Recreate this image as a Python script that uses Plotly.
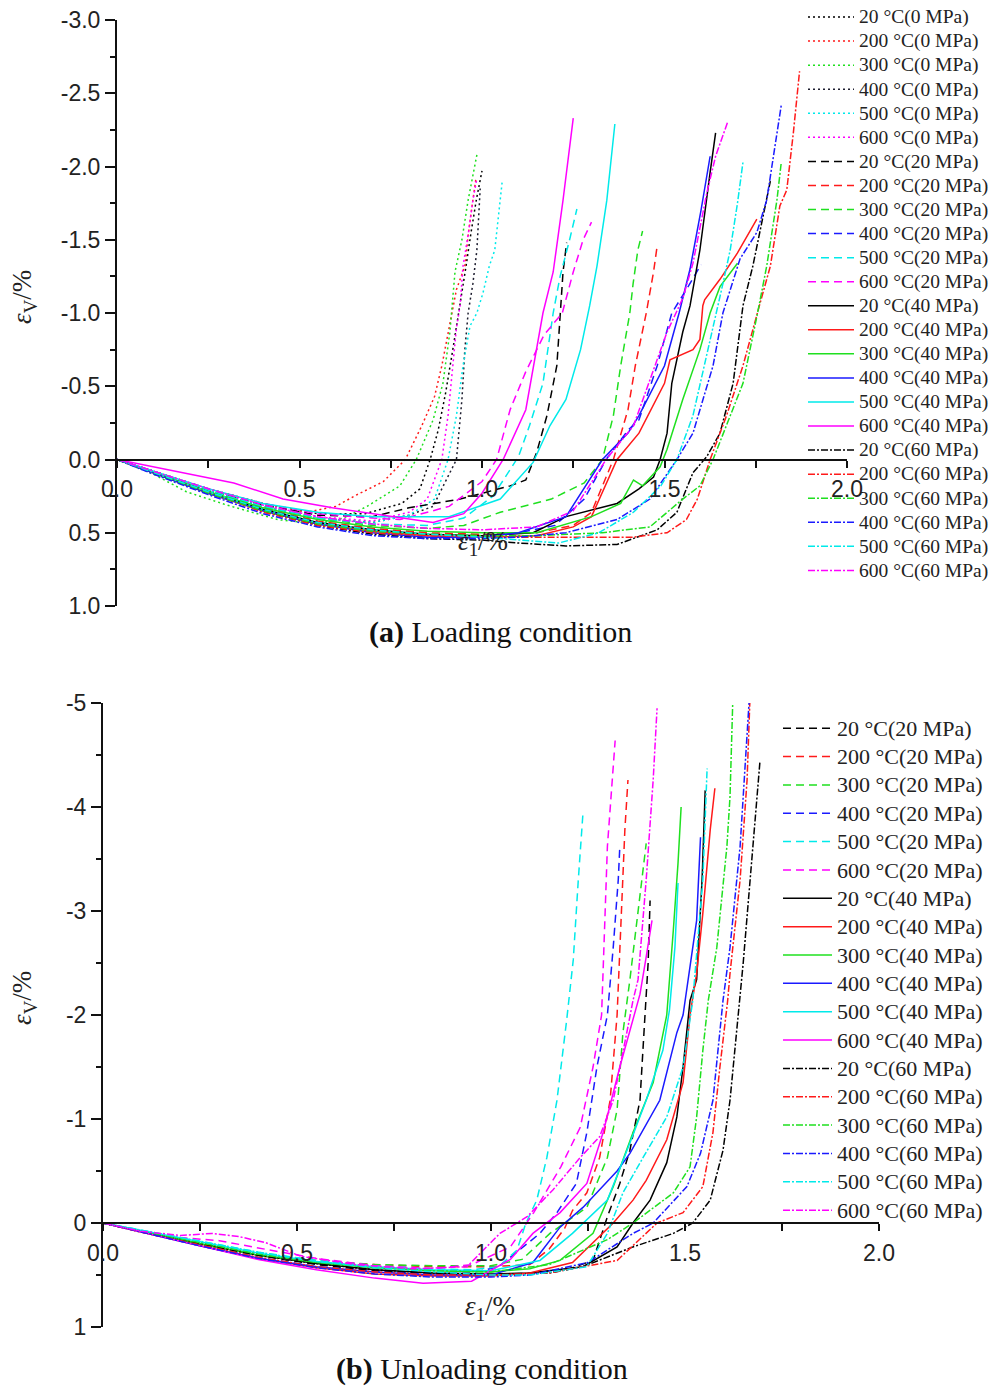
import plotly.graph_objects as go

W, H = 992, 1389

# ---------------- (a) Loading condition: eps_1 (%) vs eps_V (%) ----------------
a_20_0_x = [0, 0.1, 0.25, 0.4, 0.55, 0.68, 0.78, 0.83, 0.858, 0.88, 0.9, 0.92, 0.94, 0.955, 0.97, 0.985, 1.0]
a_20_0_y = [0, 0.08, 0.2, 0.3, 0.37, 0.37, 0.3, 0.2, 0, -0.2, -0.45, -0.75, -1.05, -1.3, -1.55, -1.78, -1.97]
a_200_0_x = [0, 0.1, 0.25, 0.4, 0.52, 0.6, 0.65, 0.73, 0.79, 0.835, 0.87, 0.89, 0.907, 0.92, 0.93, 0.953, 0.963, 0.975, 0.983]
a_200_0_y = [0, 0.08, 0.2, 0.3, 0.36, 0.32, 0.25, 0.15, 0, -0.23, -0.43, -0.64, -0.87, -1.05, -1.16, -1.32, -1.55, -1.77, -1.91]
a_300_0_x = [0, 0.1, 0.19, 0.3, 0.44, 0.55, 0.62, 0.685, 0.775, 0.82, 0.866, 0.893, 0.912, 0.926, 0.945, 0.962, 0.986]
a_300_0_y = [0, 0.1, 0.22, 0.31, 0.41, 0.44, 0.4, 0.32, 0.18, 0, -0.27, -0.52, -0.87, -1.28, -1.5, -1.77, -2.08]
a_400_0_x = [0, 0.1, 0.25, 0.4, 0.55, 0.7, 0.8, 0.866, 0.93, 0.945, 0.953, 0.962, 0.975, 0.986, 0.995]
a_400_0_y = [0, 0.08, 0.21, 0.32, 0.4, 0.43, 0.38, 0.32, 0, -0.41, -0.75, -1.0, -1.2, -1.43, -1.85]
a_500_0_x = [0, 0.1, 0.25, 0.4, 0.55, 0.7, 0.8, 0.87, 0.907, 0.93, 0.948, 0.967, 0.986, 1.003, 1.02, 1.035, 1.045, 1.055]
a_500_0_y = [0, 0.08, 0.21, 0.32, 0.4, 0.43, 0.38, 0.27, 0, -0.3, -0.64, -0.91, -1.0, -1.14, -1.32, -1.43, -1.66, -1.89]
a_600_0_x = [0, 0.1, 0.25, 0.4, 0.55, 0.7, 0.8, 0.85, 0.89, 0.907, 0.92, 0.93, 0.94, 0.948, 0.963, 0.975, 0.986]
a_600_0_y = [0, 0.08, 0.2, 0.31, 0.39, 0.42, 0.36, 0.27, 0, -0.3, -0.64, -0.9, -1.05, -1.32, -1.55, -1.77, -1.92]

a_20_20_x = [0, 0.1, 0.25, 0.4, 0.55, 0.7, 0.8, 0.94, 1.077, 1.12, 1.15, 1.178, 1.205, 1.214, 1.222, 1.232]
a_20_20_y = [0, 0.08, 0.21, 0.31, 0.38, 0.39, 0.33, 0.27, 0.18, 0.14, -0.05, -0.3, -0.64, -1.0, -1.28, -1.48]
a_200_20_x = [0, 0.1, 0.25, 0.4, 0.55, 0.7, 0.85, 1.0, 1.15, 1.25, 1.3, 1.36, 1.4, 1.42, 1.45, 1.47, 1.48]
a_200_20_y = [0, 0.09, 0.22, 0.33, 0.42, 0.47, 0.5, 0.51, 0.5, 0.45, 0.36, 0, -0.34, -0.64, -1.0, -1.28, -1.46]
a_300_20_x = [0, 0.1, 0.25, 0.4, 0.55, 0.7, 0.85, 0.95, 1.05, 1.19, 1.28, 1.33, 1.36, 1.38, 1.405, 1.414, 1.427, 1.44]
a_300_20_y = [0, 0.09, 0.21, 0.32, 0.4, 0.45, 0.47, 0.45, 0.36, 0.27, 0.16, 0, -0.3, -0.64, -1.0, -1.2, -1.43, -1.56]
a_400_20_x = [0, 0.1, 0.25, 0.4, 0.55, 0.7, 0.85, 1.0, 1.1, 1.2, 1.28, 1.34, 1.4, 1.43, 1.48, 1.52, 1.56, 1.6]
a_400_20_y = [0, 0.09, 0.22, 0.34, 0.43, 0.49, 0.52, 0.52, 0.5, 0.45, 0.27, 0, -0.2, -0.27, -0.64, -1.0, -1.16, -1.33]
a_500_20_x = [0, 0.1, 0.25, 0.4, 0.55, 0.7, 0.85, 0.95, 1.03, 1.1, 1.13, 1.167, 1.195, 1.214, 1.24, 1.26]
a_500_20_y = [0, 0.08, 0.21, 0.32, 0.4, 0.44, 0.45, 0.4, 0.25, -0.02, -0.23, -0.52, -1.0, -1.25, -1.5, -1.71]
a_600_20_x = [0, 0.1, 0.25, 0.4, 0.55, 0.7, 0.775, 0.91, 1.0, 1.04, 1.077, 1.12, 1.17, 1.22, 1.25, 1.277, 1.3]
a_600_20_y = [0, 0.08, 0.2, 0.3, 0.37, 0.4, 0.41, 0.32, 0.15, 0, -0.34, -0.6, -0.85, -1.0, -1.28, -1.5, -1.62]

a_20_40_x = [0, 0.1, 0.25, 0.4, 0.55, 0.7, 0.85, 1.0, 1.14, 1.23, 1.37, 1.43, 1.47, 1.488, 1.507, 1.52, 1.55, 1.57, 1.597, 1.625, 1.64]
a_20_40_y = [0, 0.09, 0.22, 0.34, 0.43, 0.48, 0.51, 0.52, 0.5, 0.39, 0.3, 0.2, 0.12, 0, -0.18, -0.52, -0.87, -1.05, -1.43, -1.96, -2.23]
a_200_40_x = [0, 0.1, 0.25, 0.4, 0.55, 0.7, 0.85, 1.0, 1.15, 1.25, 1.3, 1.37, 1.43, 1.5, 1.515, 1.578, 1.597, 1.605, 1.61, 1.652, 1.7, 1.753]
a_200_40_y = [0, 0.09, 0.23, 0.35, 0.44, 0.49, 0.52, 0.53, 0.52, 0.46, 0.39, 0, -0.18, -0.52, -0.68, -0.75, -0.82, -1.05, -1.09, -1.23, -1.41, -1.64]
a_300_40_x = [0, 0.1, 0.25, 0.4, 0.55, 0.7, 0.85, 1.0, 1.15, 1.3, 1.38, 1.415, 1.44, 1.488, 1.507, 1.55, 1.597, 1.625, 1.652, 1.7]
a_300_40_y = [0, 0.09, 0.22, 0.33, 0.41, 0.46, 0.49, 0.5, 0.5, 0.39, 0.3, 0.14, 0.18, 0.05, -0.07, -0.41, -0.75, -1.0, -1.18, -1.34]
a_400_40_x = [0, 0.1, 0.25, 0.4, 0.55, 0.7, 0.85, 1.0, 1.1, 1.23, 1.33, 1.4, 1.43, 1.5, 1.54, 1.57, 1.6, 1.625]
a_400_40_y = [0, 0.09, 0.23, 0.35, 0.44, 0.5, 0.53, 0.53, 0.5, 0.39, 0, -0.18, -0.3, -0.64, -1.0, -1.3, -1.7, -2.07]
a_500_40_x = [0, 0.1, 0.25, 0.4, 0.55, 0.7, 0.775, 0.91, 1.05, 1.14, 1.186, 1.23, 1.27, 1.295, 1.315, 1.342, 1.364]
a_500_40_y = [0, 0.08, 0.2, 0.3, 0.36, 0.39, 0.39, 0.39, 0.27, 0.02, -0.23, -0.41, -0.75, -1.05, -1.32, -1.77, -2.29]
a_600_40_x = [0, 0.1, 0.2, 0.32, 0.455, 0.59, 0.73, 0.866, 0.95, 1.0, 1.058, 1.12, 1.167, 1.195, 1.222, 1.25]
a_600_40_y = [0, 0.05, 0.1, 0.16, 0.27, 0.33, 0.38, 0.43, 0.37, 0.23, 0, -0.34, -1.0, -1.28, -1.77, -2.33]

a_20_60_x = [0, 0.1, 0.25, 0.4, 0.55, 0.7, 0.85, 1.0, 1.1, 1.23, 1.37, 1.48, 1.534, 1.578, 1.616, 1.652, 1.688, 1.715, 1.742, 1.77, 1.79]
a_20_60_y = [0, 0.09, 0.23, 0.35, 0.45, 0.51, 0.54, 0.55, 0.57, 0.59, 0.58, 0.48, 0.36, 0.09, -0.02, -0.18, -0.52, -1.05, -1.32, -1.66, -1.9]
a_200_60_x = [0, 0.1, 0.25, 0.4, 0.55, 0.7, 0.85, 1.0, 1.2, 1.415, 1.507, 1.56, 1.59, 1.625, 1.67, 1.715, 1.76, 1.79, 1.816, 1.835, 1.853, 1.87]
a_200_60_y = [0, 0.09, 0.23, 0.36, 0.45, 0.5, 0.52, 0.53, 0.53, 0.53, 0.5, 0.41, 0.27, 0, -0.3, -0.64, -1.05, -1.32, -1.73, -1.84, -2.23, -2.65]
a_300_60_x = [0, 0.1, 0.25, 0.4, 0.55, 0.7, 0.85, 1.0, 1.15, 1.33, 1.46, 1.55, 1.597, 1.633, 1.67, 1.715, 1.755, 1.78, 1.808, 1.82]
a_300_60_y = [0, 0.09, 0.23, 0.35, 0.44, 0.49, 0.51, 0.52, 0.52, 0.5, 0.46, 0.27, 0.18, 0, -0.23, -0.52, -1.0, -1.32, -1.77, -2.03]
a_400_60_x = [0, 0.1, 0.25, 0.4, 0.55, 0.7, 0.85, 1.0, 1.1, 1.23, 1.37, 1.46, 1.534, 1.578, 1.633, 1.66, 1.707, 1.753, 1.78, 1.808, 1.82]
a_400_60_y = [0, 0.1, 0.24, 0.37, 0.46, 0.52, 0.54, 0.54, 0.53, 0.5, 0.41, 0.27, 0, -0.18, -0.64, -1.0, -1.37, -1.55, -1.77, -2.23, -2.42]
a_500_60_x = [0, 0.1, 0.25, 0.4, 0.55, 0.7, 0.85, 1.0, 1.1, 1.21, 1.32, 1.415, 1.49, 1.534, 1.578, 1.62, 1.66, 1.68, 1.7, 1.715]
a_500_60_y = [0, 0.09, 0.22, 0.34, 0.43, 0.48, 0.51, 0.53, 0.55, 0.57, 0.5, 0.36, 0.18, 0, -0.3, -0.75, -1.2, -1.43, -1.75, -2.03]
a_600_60_x = [0, 0.1, 0.25, 0.4, 0.55, 0.7, 0.85, 1.0, 1.15, 1.25, 1.34, 1.415, 1.488, 1.507, 1.55, 1.578, 1.616, 1.64, 1.674]
a_600_60_y = [0, 0.08, 0.2, 0.31, 0.39, 0.44, 0.47, 0.48, 0.46, 0.35, 0, -0.23, -0.75, -0.87, -1.1, -1.34, -1.82, -2.07, -2.31]

# ---------------- (b) Unloading condition ----------------
b_20_20_x = [0, 0.1, 0.25, 0.4, 0.55, 0.7, 0.85, 1.0, 1.108, 1.195, 1.263, 1.3, 1.332, 1.358, 1.384, 1.395, 1.405, 1.41]
b_20_20_y = [0, 0.08, 0.2, 0.31, 0.4, 0.46, 0.49, 0.5, 0.48, 0.45, 0.36, -0.06, -0.38, -0.7, -1.18, -1.88, -2.5, -3.1]
b_200_20_x = [0, 0.1, 0.25, 0.4, 0.55, 0.7, 0.85, 1.0, 1.1, 1.15, 1.19, 1.21, 1.247, 1.28, 1.307, 1.325, 1.337, 1.345, 1.353]
b_200_20_y = [0, 0.08, 0.2, 0.3, 0.37, 0.4, 0.42, 0.42, 0.4, 0.25, 0.05, -0.12, -0.29, -0.63, -1.18, -2.0, -2.98, -3.78, -4.26]
b_300_20_x = [0, 0.1, 0.25, 0.4, 0.55, 0.7, 0.85, 1.0, 1.08, 1.152, 1.247, 1.3, 1.325, 1.34, 1.358, 1.384, 1.4]
b_300_20_y = [0, 0.08, 0.19, 0.29, 0.36, 0.4, 0.41, 0.41, 0.35, 0.1, -0.15, -0.63, -1.09, -1.83, -2.34, -3.13, -3.65]
b_400_20_x = [0, 0.1, 0.25, 0.4, 0.55, 0.7, 0.85, 0.95, 1.02, 1.126, 1.17, 1.22, 1.247, 1.273, 1.3, 1.315, 1.328, 1.332]
b_400_20_y = [0, 0.08, 0.21, 0.33, 0.42, 0.47, 0.49, 0.48, 0.42, 0.1, -0.1, -0.38, -0.87, -1.5, -2.0, -2.65, -3.3, -3.62]
b_500_20_x = [0, 0.1, 0.25, 0.4, 0.55, 0.7, 0.85, 0.95, 1.02, 1.067, 1.09, 1.118, 1.144, 1.17, 1.195, 1.212, 1.225, 1.237]
b_500_20_y = [0, 0.07, 0.17, 0.28, 0.36, 0.41, 0.44, 0.45, 0.42, 0.26, 0, -0.22, -0.63, -1.18, -1.95, -2.53, -3.3, -3.94]
b_600_20_x = [0, 0.1, 0.2, 0.3, 0.4, 0.55, 0.7, 0.85, 0.95, 1.05, 1.11, 1.18, 1.23, 1.263, 1.285, 1.29, 1.3, 1.32]
b_600_20_y = [0, 0.08, 0.14, 0.17, 0.24, 0.34, 0.41, 0.44, 0.4, 0.23, -0.1, -0.54, -0.92, -1.5, -2.0, -2.5, -3.62, -4.64]

b_20_40_x = [0, 0.1, 0.25, 0.4, 0.55, 0.7, 0.85, 1.0, 1.1, 1.237, 1.325, 1.366, 1.41, 1.453, 1.479, 1.495, 1.513, 1.53, 1.544, 1.552]
b_20_40_y = [0, 0.08, 0.2, 0.31, 0.39, 0.45, 0.48, 0.49, 0.48, 0.42, 0.23, 0, -0.22, -0.58, -1.02, -1.5, -2.14, -2.34, -3.3, -4.16]
b_200_40_x = [0, 0.1, 0.25, 0.4, 0.55, 0.7, 0.85, 1.0, 1.1, 1.21, 1.315, 1.366, 1.4, 1.453, 1.495, 1.513, 1.53, 1.546, 1.565, 1.577]
b_200_40_y = [0, 0.09, 0.22, 0.34, 0.43, 0.49, 0.51, 0.51, 0.48, 0.38, 0, -0.22, -0.41, -0.8, -1.35, -2.0, -2.4, -2.98, -3.78, -4.18]
b_300_40_x = [0, 0.1, 0.25, 0.4, 0.55, 0.7, 0.85, 1.0, 1.1, 1.178, 1.263, 1.315, 1.366, 1.418, 1.453, 1.47, 1.482, 1.49]
b_300_40_y = [0, 0.08, 0.2, 0.31, 0.38, 0.43, 0.46, 0.47, 0.44, 0.36, 0.1, -0.35, -0.87, -1.35, -2.0, -2.82, -3.46, -4.0]
b_400_40_x = [0, 0.1, 0.25, 0.4, 0.55, 0.7, 0.85, 1.0, 1.108, 1.178, 1.237, 1.325, 1.358, 1.435, 1.479, 1.495, 1.53, 1.54]
b_400_40_y = [0, 0.09, 0.22, 0.34, 0.42, 0.47, 0.5, 0.5, 0.38, 0.04, -0.15, -0.5, -0.67, -1.18, -1.83, -2.0, -2.91, -3.71]
b_500_40_x = [0, 0.1, 0.25, 0.4, 0.55, 0.7, 0.85, 1.0, 1.126, 1.21, 1.3, 1.358, 1.4, 1.443, 1.46, 1.474, 1.482]
b_500_40_y = [0, 0.07, 0.18, 0.29, 0.37, 0.42, 0.45, 0.46, 0.36, 0.1, -0.22, -0.77, -1.18, -1.66, -2.05, -2.65, -3.27]
b_600_40_x = [0, 0.1, 0.25, 0.4, 0.55, 0.7, 0.825, 0.95, 1.05, 1.108, 1.178, 1.247, 1.289, 1.332, 1.366, 1.384, 1.4, 1.415]
b_600_40_y = [0, 0.09, 0.22, 0.35, 0.45, 0.53, 0.58, 0.56, 0.35, 0.1, -0.1, -0.38, -0.87, -1.5, -1.95, -2.2, -2.56, -2.91]

b_20_60_x = [0, 0.1, 0.25, 0.4, 0.55, 0.7, 0.85, 1.0, 1.152, 1.237, 1.366, 1.47, 1.52, 1.565, 1.598, 1.616, 1.642, 1.65, 1.675, 1.693]
b_20_60_y = [0, 0.08, 0.2, 0.31, 0.39, 0.45, 0.48, 0.5, 0.48, 0.42, 0.23, 0.1, 0, -0.22, -0.7, -1.18, -2.14, -2.5, -3.62, -4.43]
b_200_60_x = [0, 0.1, 0.25, 0.4, 0.55, 0.7, 0.85, 1.0, 1.15, 1.325, 1.428, 1.495, 1.546, 1.572, 1.59, 1.61, 1.616, 1.642, 1.66, 1.667]
b_200_60_y = [0, 0.09, 0.21, 0.33, 0.42, 0.47, 0.5, 0.5, 0.48, 0.36, 0, -0.1, -0.35, -0.87, -1.5, -2.14, -2.4, -3.3, -4.26, -5.0]
b_300_60_x = [0, 0.1, 0.25, 0.4, 0.55, 0.7, 0.85, 1.0, 1.15, 1.3, 1.366, 1.47, 1.513, 1.53, 1.546, 1.56, 1.582, 1.608, 1.616, 1.623]
b_300_60_y = [0, 0.08, 0.19, 0.3, 0.38, 0.43, 0.46, 0.47, 0.4, 0.16, 0, -0.29, -0.54, -1.02, -1.66, -2.14, -2.65, -3.62, -4.1, -5.0]
b_400_60_x = [0, 0.1, 0.25, 0.4, 0.55, 0.7, 0.85, 1.0, 1.1, 1.25, 1.366, 1.418, 1.505, 1.54, 1.572, 1.598, 1.616, 1.642, 1.665]
b_400_60_y = [0, 0.09, 0.22, 0.34, 0.43, 0.49, 0.52, 0.52, 0.5, 0.38, 0.1, 0, -0.35, -0.67, -1.18, -2.14, -2.65, -3.62, -5.0]
b_500_60_x = [0, 0.1, 0.25, 0.4, 0.55, 0.7, 0.85, 1.0, 1.1, 1.247, 1.3, 1.34, 1.392, 1.453, 1.495, 1.52, 1.546, 1.552, 1.557]
b_500_60_y = [0, 0.07, 0.17, 0.28, 0.37, 0.43, 0.47, 0.5, 0.5, 0.42, 0.1, -0.29, -0.63, -1.02, -1.5, -2.14, -3.3, -3.94, -4.37]
b_600_60_x = [0, 0.1, 0.2, 0.28, 0.35, 0.42, 0.51, 0.65, 0.8, 0.938, 1.023, 1.093, 1.16, 1.23, 1.28, 1.315, 1.35, 1.366, 1.379, 1.4, 1.418, 1.428]
b_600_60_y = [0, 0.08, 0.12, 0.1, 0.13, 0.19, 0.32, 0.4, 0.44, 0.42, 0.1, -0.06, -0.32, -0.63, -0.83, -1.18, -1.83, -2.14, -2.34, -3.3, -4.26, -4.95]

temperatures = ["20", "200", "300", "400", "500", "600"]
pressures_a = ["0", "20", "40", "60"]
pressures_b = ["20", "40", "60"]

# tick positions and their printed labels (hyphen minus, as in the figure)
x_tickvals = [0, 0.5, 1.0, 1.5, 2.0]
x_ticktext = ["0.0", "0.5", "1.0", "1.5", "2.0"]
a_y_tickvals = [-3.0, -2.5, -2.0, -1.5, -1.0, -0.5, 0.0, 0.5, 1.0]
a_y_ticktext = ["-3.0", "-2.5", "-2.0", "-1.5", "-1.0", "-0.5", "0.0", "0.5", "1.0"]
b_y_tickvals = [-5, -4, -3, -2, -1, 0, 1]
b_y_ticktext = ["-5", "-4", "-3", "-2", "-1", "0", "1"]

colors = {"20": "#000000", "200": "#ff1a1a", "300": "#1fe01f",
          "400": "#1a1aff", "500": "#00eaea", "600": "#ff00ff"}
dot_colors = {"400": "#1c1c2e"}
dashes = {"0": "2px,3px", "20": "8px,5px", "40": "solid", "60": "7px,2px,2px,2px"}

series_a = {
    ("20", "0"): (a_20_0_x, a_20_0_y), ("200", "0"): (a_200_0_x, a_200_0_y),
    ("300", "0"): (a_300_0_x, a_300_0_y), ("400", "0"): (a_400_0_x, a_400_0_y),
    ("500", "0"): (a_500_0_x, a_500_0_y), ("600", "0"): (a_600_0_x, a_600_0_y),
    ("20", "20"): (a_20_20_x, a_20_20_y), ("200", "20"): (a_200_20_x, a_200_20_y),
    ("300", "20"): (a_300_20_x, a_300_20_y), ("400", "20"): (a_400_20_x, a_400_20_y),
    ("500", "20"): (a_500_20_x, a_500_20_y), ("600", "20"): (a_600_20_x, a_600_20_y),
    ("20", "40"): (a_20_40_x, a_20_40_y), ("200", "40"): (a_200_40_x, a_200_40_y),
    ("300", "40"): (a_300_40_x, a_300_40_y), ("400", "40"): (a_400_40_x, a_400_40_y),
    ("500", "40"): (a_500_40_x, a_500_40_y), ("600", "40"): (a_600_40_x, a_600_40_y),
    ("20", "60"): (a_20_60_x, a_20_60_y), ("200", "60"): (a_200_60_x, a_200_60_y),
    ("300", "60"): (a_300_60_x, a_300_60_y), ("400", "60"): (a_400_60_x, a_400_60_y),
    ("500", "60"): (a_500_60_x, a_500_60_y), ("600", "60"): (a_600_60_x, a_600_60_y),
}
series_b = {
    ("20", "20"): (b_20_20_x, b_20_20_y), ("200", "20"): (b_200_20_x, b_200_20_y),
    ("300", "20"): (b_300_20_x, b_300_20_y), ("400", "20"): (b_400_20_x, b_400_20_y),
    ("500", "20"): (b_500_20_x, b_500_20_y), ("600", "20"): (b_600_20_x, b_600_20_y),
    ("20", "40"): (b_20_40_x, b_20_40_y), ("200", "40"): (b_200_40_x, b_200_40_y),
    ("300", "40"): (b_300_40_x, b_300_40_y), ("400", "40"): (b_400_40_x, b_400_40_y),
    ("500", "40"): (b_500_40_x, b_500_40_y), ("600", "40"): (b_600_40_x, b_600_40_y),
    ("20", "60"): (b_20_60_x, b_20_60_y), ("200", "60"): (b_200_60_x, b_200_60_y),
    ("300", "60"): (b_300_60_x, b_300_60_y), ("400", "60"): (b_400_60_x, b_400_60_y),
    ("500", "60"): (b_500_60_x, b_500_60_y), ("600", "60"): (b_600_60_x, b_600_60_y),
}

fig = go.Figure()


def add_curves(series, pressures, xa, ya, legend, label_px):
    for p in pressures:
        for t in temperatures:
            x, y = series[(t, p)]
            col = dot_colors.get(t, colors[t]) if p == "0" else colors[t]
            label = f"{t} \u00b0C({p} MPa)"
            fig.add_trace(go.Scatter(
                x=x, y=y, mode="lines", xaxis=xa, yaxis=ya, legend=legend,
                name=f'<span style="font-size:{label_px}px">{label}</span>',
                line=dict(color=col, width=1.5, dash=dashes[p]),
            ))


add_curves(series_a, pressures_a, "x", "y", "legend", 19.5)
add_curves(series_b, pressures_b, "x2", "y2", "legend2", 22)

# ---- pixel geometry of the two panels ----
def px_x(p):
    return p / W


def px_y(p):
    return 1 - p / H


a_xdom = [px_x(117), px_x(847)]
a_ydom = [px_y(606), px_y(20)]
a_yrange = [1.0, -3.0]
b_xdom = [px_x(103), px_x(879)]
b_ydom = [px_y(1327), px_y(703)]
b_yrange = [1.0, -5.0]


def zero_pos(dom, rng):
    return dom[0] + (0 - rng[0]) / (rng[1] - rng[0]) * (dom[1] - dom[0])


tick_font = dict(family="Liberation Sans, Arial, sans-serif", size=23, color="#222")
serif = "Liberation Serif, Times New Roman, serif"

common_x = dict(range=[0, 2.0], anchor="free", showline=True, linecolor="#111",
                linewidth=2, ticks="outside", ticklen=7, tickwidth=1.6,
                tickcolor="#111", tickvals=x_tickvals, ticktext=x_ticktext,
                minor=dict(dtick=0.25, tick0=0, ticks="outside", ticklen=7, tickwidth=1.6, tickcolor="#111"),
                showgrid=False, zeroline=False, tickfont=tick_font, ticklabelstandoff=2)
common_y = dict(showline=True, linecolor="#111", linewidth=2, ticks="outside",
                ticklen=10, tickwidth=1.6, tickcolor="#111", showgrid=False,
                zeroline=False, tickfont=tick_font)

fig.update_layout(
    width=W, height=H, autosize=False,
    margin=dict(l=0, r=0, t=0, b=0, pad=0, autoexpand=False),
    paper_bgcolor="white", plot_bgcolor="rgba(0,0,0,0)",
    xaxis=dict(domain=a_xdom, position=zero_pos(a_ydom, a_yrange), **common_x),
    yaxis=dict(domain=a_ydom, range=a_yrange, anchor="x",
               tickvals=a_y_tickvals, ticktext=a_y_ticktext,
               minor=dict(dtick=0.25, tick0=0, ticks="outside", ticklen=5, tickwidth=1.6, tickcolor="#111"),
               **common_y),
    xaxis2=dict(domain=b_xdom, position=zero_pos(b_ydom, b_yrange), **common_x),
    yaxis2=dict(domain=b_ydom, range=b_yrange, anchor="x2",
                tickvals=b_y_tickvals, ticktext=b_y_ticktext,
                minor=dict(dtick=0.5, tick0=0, ticks="outside", ticklen=5, tickwidth=1.6, tickcolor="#111"),
                **common_y),
    legend=dict(x=px_x(803), y=px_y(0), xanchor="left", yanchor="top",
                bgcolor="rgba(0,0,0,0)", borderwidth=0, itemwidth=46,
                font=dict(family=serif, size=16.2, color="#222"),
                tracegroupgap=0),
    legend2=dict(x=px_x(778), y=px_y(709), xanchor="left", yanchor="top",
                 bgcolor="rgba(0,0,0,0)", borderwidth=0, itemwidth=49,
                 font=dict(family=serif, size=19.5, color="#222"),
                 tracegroupgap=0),
    showlegend=True,
)

eps_v = "<i>\u03b5</i><sub>V</sub>/%"
eps_1 = "<i>\u03b5</i><sub>1</sub>/%"
ann_font = dict(family=serif, size=27, color="#222")
cap_font = dict(family=serif, size=30, color="#111")


def label(text, px, py, font, angle=0):
    fig.add_annotation(text=text, x=px_x(px), y=px_y(py), xref="paper", yref="paper",
                       xanchor="center", yanchor="middle", showarrow=False,
                       textangle=angle, font=font)


label(eps_v, 24, 297, ann_font, -90)
label(eps_v, 24, 998, ann_font, -90)
label(eps_1, 483, 543, ann_font)
label(eps_1, 490, 1308, ann_font)
label("<b>(a)</b> Loading condition", 500, 632, cap_font)
label("<b>(b)</b> Unloading condition", 482, 1369, cap_font)

fig.write_html("out.html")
